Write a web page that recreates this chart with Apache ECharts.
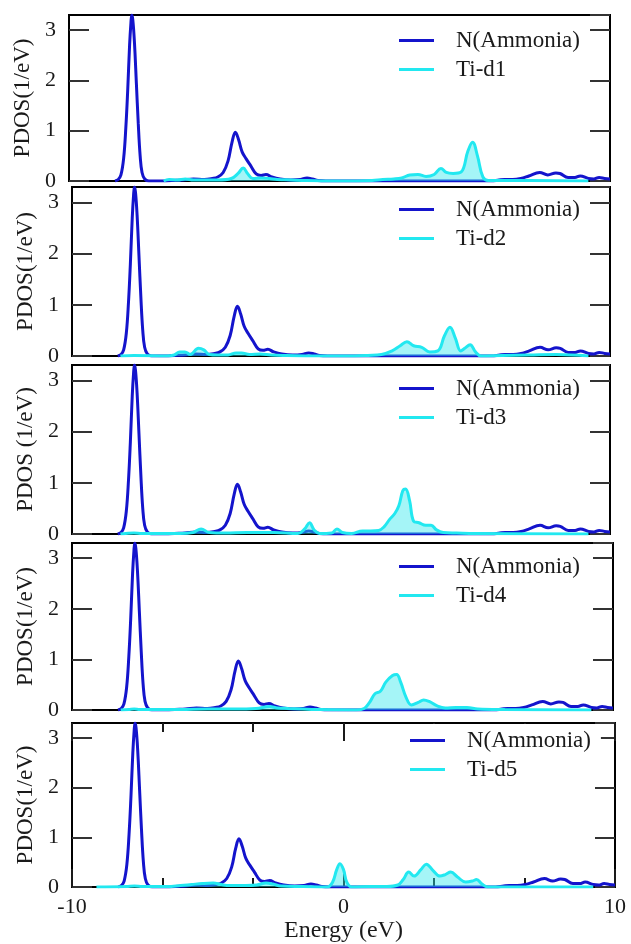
<!DOCTYPE html>
<html>
<head>
<meta charset="utf-8">
<script src="https://cdn.jsdelivr.net/npm/echarts@6/dist/echarts.min.js"></script>
<style>
  html, body { margin: 0; padding: 0; background: #fff; }
  #chart { width: 631px; height: 944px; }
</style>
</head>
<body>
<div id="chart"></div>
<script>
// [energy (eV), PDOS (1/eV)]
const nAmmonia = [
  [-8.3, 0], [-8.18, 0.03], [-8.08, 0.12], [-7.98, 0.45], [-7.9, 1.05], [-7.83, 1.8],
  [-7.76, 2.7], [-7.71, 3.15], [-7.68, 3.3], [-7.64, 3.2], [-7.58, 2.75], [-7.51, 1.95],
  [-7.44, 1.15], [-7.37, 0.5], [-7.3, 0.17], [-7.2, 0.04], [-7.05, 0],
  [-6.5, 0], [-6.2, 0.01], [-5.8, 0.02], [-5.4, 0.04], [-5.0, 0.03], [-4.7, 0.05], [-4.5, 0.08],
  [-4.3, 0.17], [-4.12, 0.4], [-3.97, 0.78], [-3.85, 0.97], [-3.73, 0.82], [-3.6, 0.58],
  [-3.45, 0.44], [-3.28, 0.3], [-3.08, 0.14], [-2.9, 0.11], [-2.72, 0.13], [-2.5, 0.08],
  [-2.2, 0.04], [-1.8, 0.02], [-1.45, 0.03], [-1.2, 0.06], [-1.0, 0.04], [-0.8, 0.01], [-0.5, 0],
  [5.6, 0], [5.9, 0.02], [6.1, 0.03], [6.4, 0.03], [6.7, 0.05], [7.0, 0.1], [7.4, 0.17],
  [7.7, 0.12], [8.0, 0.16], [8.15, 0.15], [8.45, 0.07], [8.7, 0.07], [8.9, 0.1], [9.2, 0.05],
  [9.4, 0.04], [9.6, 0.07], [9.8, 0.05], [10, 0.04]
];

const tiD1 = [
  [-6.5, 0], [-6.3, 0.03], [-6.0, 0.02], [-5.7, 0.04], [-5.4, 0.02], [-4.5, 0.02],
  [-4.0, 0.05], [-3.75, 0.15], [-3.56, 0.26], [-3.4, 0.15], [-3.2, 0.05], [-2.9, 0.06], [-2.6, 0.05],
  [-2.3, 0.03], [-1.8, 0.02], [-1.2, 0.01], [0, 0], [1.2, 0.01], [1.6, 0.03], [2.0, 0.04],
  [2.3, 0.06], [2.6, 0.12], [2.9, 0.13], [3.2, 0.09], [3.5, 0.13], [3.75, 0.25], [3.95, 0.17],
  [4.2, 0.15], [4.5, 0.18], [4.75, 0.6], [4.92, 0.77], [5.1, 0.5], [5.3, 0.08], [5.5, 0.01],
  [7, 0.01], [9.2, 0]
];

const tiD2 = [
  [-8.2, 0], [-7.7, 0.01], [-6.5, 0], [-6.2, 0.02], [-6.0, 0.08], [-5.8, 0.08], [-5.6, 0.03], [-5.3, 0.15],
  [-5.1, 0.12], [-4.9, 0.03], [-4.6, 0.02], [-4.2, 0.02], [-3.9, 0.06], [-3.7, 0.06], [-3.4, 0.03],
  [-3.0, 0.04], [-2.6, 0.02], [-2, 0.01], [-1, 0], [0.5, 0], [1.0, 0.01], [1.5, 0.03], [1.9, 0.1],
  [2.2, 0.2], [2.45, 0.28], [2.7, 0.2], [3.0, 0.17], [3.3, 0.08], [3.6, 0.1], [3.85, 0.4],
  [4.05, 0.56], [4.25, 0.35], [4.45, 0.1], [4.6, 0.15], [4.8, 0.22], [5.0, 0.08], [5.2, 0],
  [6, 0.01], [7, 0.02], [8, 0.03], [9.2, 0]
];

const tiD3 = [
  [-8.2, 0], [-8.0, 0.01], [-7.7, 0.02], [-7.4, 0.01], [-6.0, 0.01], [-5.5, 0.03], [-5.2, 0.1],
  [-4.9, 0.03], [-4.3, 0.02], [-3.5, 0.03], [-2.5, 0.03], [-1.6, 0.01], [-1.35, 0.1], [-1.17, 0.22],
  [-1.0, 0.08], [-0.8, 0.01], [-0.35, 0.02], [-0.15, 0.1], [0.05, 0.03], [0.4, 0.01], [0.8, 0.06],
  [1.1, 0.06], [1.4, 0.07], [1.6, 0.14], [1.8, 0.28], [2.0, 0.4], [2.15, 0.55], [2.3, 0.85],
  [2.4, 0.88], [2.55, 0.65], [2.7, 0.25], [2.9, 0.22], [3.15, 0.17], [3.35, 0.17], [3.55, 0.08],
  [3.8, 0.03], [4.3, 0.02], [5, 0.01], [9.2, 0]
];

const tiD4 = [
  [-8.2, 0], [-7.9, 0.01], [-7.7, 0.02], [-7.5, 0.01], [-6, 0.01], [-5, 0.02], [-4, 0.02],
  [-3.2, 0.03], [-2.7, 0.07], [-2.4, 0.04], [-2, 0.03], [-1.5, 0.02], [-1, 0.01], [0.5, 0],
  [0.8, 0.03], [1.0, 0.15], [1.2, 0.32], [1.4, 0.37], [1.6, 0.55], [1.85, 0.68], [2.0, 0.7],
  [2.15, 0.55], [2.35, 0.25], [2.55, 0.1], [2.8, 0.15], [3.0, 0.2], [3.2, 0.17], [3.5, 0.08],
  [3.8, 0.04], [4.2, 0.05], [4.6, 0.05], [5, 0.02], [6, 0.01], [9.2, 0]
];

const tiD5 = [
  [-9.1, 0], [-8, 0.01], [-7.7, 0.02], [-7.4, 0.01], [-6.5, 0.01], [-6.0, 0.03], [-5.6, 0.05],
  [-5.2, 0.07], [-4.8, 0.08], [-4.5, 0.05], [-4.2, 0.03], [-3.6, 0.03], [-3.2, 0.04], [-2.85, 0.08],
  [-2.6, 0.06], [-2.3, 0.02], [-1.5, 0.01], [-0.6, 0], [-0.4, 0.1], [-0.25, 0.35], [-0.13, 0.47],
  [0.0, 0.35], [0.12, 0.1], [0.3, 0], [1, 0.01], [1.6, 0.01], [2.0, 0.04], [2.2, 0.15], [2.4, 0.3],
  [2.6, 0.22], [2.85, 0.35], [3.05, 0.46], [3.3, 0.33], [3.55, 0.22], [3.75, 0.25], [3.95, 0.3],
  [4.2, 0.2], [4.5, 0.1], [4.75, 0.12], [4.9, 0.15], [5.1, 0.06], [5.3, 0], [9.2, 0]
];

const tiSeries = [tiD1, tiD2, tiD3, tiD4, tiD5];
const tiNames = ["Ti-d1", "Ti-d2", "Ti-d3", "Ti-d4", "Ti-d5"];
const yTitles = ["PDOS(1/eV)", "PDOS(1/eV)", "PDOS (1/eV)", "PDOS(1/eV)", "PDOS(1/eV)"];
const xTickLabels = ["-10", "0", "10"];

// panel boxes in px: left, top, width, height
const panels = [
  { left: 69, top: 15, width: 541, height: 166, legendLeft: 389, legendTop: 24 },
  { left: 72, top: 187, width: 538, height: 169, legendLeft: 389, legendTop: 193 },
  { left: 72, top: 365, width: 538, height: 169, legendLeft: 389, legendTop: 372 },
  { left: 72, top: 543, width: 541, height: 167, legendLeft: 389, legendTop: 550 },
  { left: 72, top: 723, width: 543, height: 165, legendLeft: 400, legendTop: 724 },
];

const FONT = "'Liberation Serif', 'Times New Roman', serif";
const BLUE = "#1414cc";
const CYAN = "#22e8f0";
const INK = "#1a1a1a";

const chart = echarts.init(document.getElementById("chart"));

const grid = [];
const xAxis = [];
const yAxis = [];
const series = [];
const legend = [];

panels.forEach((p, i) => {
  const last = i === panels.length - 1;
  grid.push({
    left: p.left, top: p.top, width: p.width, height: p.height,
    show: true, borderColor: "#000", borderWidth: 2, backgroundColor: "transparent",
  });

  const xBase = {
    type: "value", gridIndex: i, min: -10, max: 10, interval: 10,
    axisLine: { show: false, onZero: false },
    splitLine: { show: false },
    axisTick: { show: last, inside: true, length: 18, lineStyle: { color: INK, width: 2 } },
  };
  xAxis.push(Object.assign({}, xBase, {
    position: "bottom",
    minorTick: { show: last, splitNumber: 3, length: 9, lineStyle: { color: INK, width: 2 } },
    axisLabel: {
      show: last, margin: 9, fontFamily: FONT, fontSize: 22, color: INK,
      formatter: (v) => (xTickLabels.includes(String(v)) ? String(v) : ""),
    },
    name: last ? "Energy (eV)" : "",
    nameLocation: "middle", nameGap: 32,
    nameTextStyle: { fontFamily: FONT, fontSize: 24, color: INK },
  }));
  if (last) {
    // top edge: long ticks every 10, short ticks every 10/3
    xAxis.push(Object.assign({}, xBase, {
      position: "top",
      axisLabel: { show: false },
    }));
    xAxis.push(Object.assign({}, xBase, {
      position: "top", interval: 10 / 3,
      axisTick: { show: true, inside: true, length: 9, lineStyle: { color: INK, width: 2 } },
      axisLabel: { show: false },
    }));
  }

  const yBase = {
    type: "value", gridIndex: i, min: 0, max: 3.3, interval: 1,
    axisLine: { show: false, onZero: false },
    splitLine: { show: false },
    axisTick: { show: true, inside: true, length: 20, lineStyle: { color: "#333", width: 2 } },
  };
  yAxis.push(Object.assign({}, yBase, {
    position: "left",
    axisLabel: {
      margin: 13, fontFamily: FONT, fontSize: 22, color: INK, showMaxLabel: false,
      formatter: (v) => (Number.isInteger(v) ? String(v) : ""),
    },
    name: yTitles[i], nameLocation: "middle", nameRotate: 90, nameGap: 26,
    nameTextStyle: { fontFamily: FONT, fontSize: 23, color: INK },
  }));
  yAxis.push(Object.assign({}, yBase, {
    position: "right",
    axisLabel: { show: false },
  }));

  const xIndex = last ? xAxis.length - 3 : xAxis.length - 1;
  series.push({
    name: "N(Ammonia)", type: "line", xAxisIndex: xIndex, yAxisIndex: i * 2,
    data: nAmmonia, showSymbol: false, smooth: 0.4,
    lineStyle: { color: BLUE, width: 3 }, itemStyle: { color: BLUE },
    z: 2, animation: false,
  });
  series.push({
    name: tiNames[i], type: "line", xAxisIndex: xIndex, yAxisIndex: i * 2,
    data: tiSeries[i], showSymbol: false, smooth: 0.4,
    lineStyle: { color: CYAN, width: 3 }, itemStyle: { color: CYAN },
    areaStyle: { color: "rgba(40, 230, 236, 0.6)" },
    z: 3, animation: false,
  });

  legend.push({
    data: ["N(Ammonia)", tiNames[i]],
    left: p.legendLeft, top: p.legendTop,
    orient: "vertical", icon: "rect", itemWidth: 35, itemHeight: 3, itemGap: 6,
    padding: [5, 10, 4, 10], backgroundColor: last ? "#fff" : "transparent",
    selectedMode: false,
    textStyle: { fontFamily: FONT, fontSize: 23, color: INK, lineHeight: 21, padding: [0, 0, 0, 17] },
  });
});

chart.setOption({
  animation: false,
  backgroundColor: "#fff",
  grid, xAxis, yAxis, series, legend,
});
</script>
</body>
</html>
